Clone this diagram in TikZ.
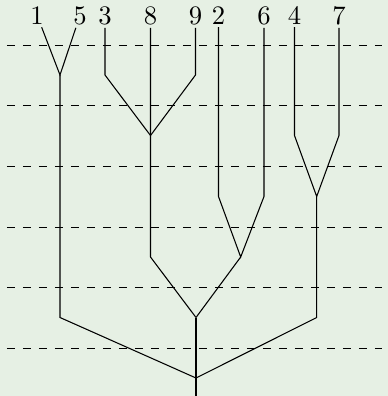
\documentclass[tikz,border=0pt]{standalone}
\definecolor{paleback}{RGB}{230,240,228}
\begin{document}
\begin{tikzpicture}[x=0.375pt,y=-0.375pt,
                    leaf/.style={anchor=base,inner sep=1pt},
                    cut/.style={dashed}]
                        \fill[paleback] (0,0) rectangle (388,396);
                        \useasboundingbox (0,0) rectangle (388,396);

                        \foreach \y in {45.3,105.9,166.5,227.1,287.7,348.3}
                            \draw[cut] (7,\y) -- (382,\y);

                        \node[leaf] (n1) at (37,24) {1};
                        \node[leaf] (n5) at (80,24) {5};
                        \node[leaf] (n3) at (105,24) {3};
                        \node[leaf] (n8) at (150.5,24) {8};
                        \node[leaf] (n9) at (195.5,24) {9};
                        \node[leaf] (n2) at (218.5,24) {2};
                        \node[leaf] (n6) at (264,24) {6};
                        \node[leaf] (n4) at (294.5,24) {4};
                        \node[leaf] (n7) at (339,24) {7};

                        \coordinate (j15) at (60,75);
                        \coordinate (c3) at (105,75);
                        \coordinate (c9) at (195.5,75);
                        \coordinate (j389) at (150.5,135.5);
                        \coordinate (c4) at (294.5,135.5);
                        \coordinate (c7) at (339,135.5);
                        \coordinate (c2) at (218.5,196.5);
                        \coordinate (c6) at (264,196.5);
                        \coordinate (j47) at (316.7,196.5);
                        \coordinate (c8) at (150.5,257);
                        \coordinate (j26) at (240.7,257);
                        \coordinate (c15) at (60,317.5);
                        \coordinate (j3) at (196,317.5);
                        \coordinate (c47) at (316.7,317.5);
                        \coordinate (root) at (196,378);
                        \coordinate (tail) at (196,396);

                        \draw (n1) -- (j15) -- (n5);
                        \draw (j15) -- (c15) -- (root);
                        \draw (n3) -- (c3) -- (j389) -- (c9) -- (n9);
                        \draw (n8) -- (j389) -- (c8) -- (j3);
                        \draw (n2) -- (c2) -- (j26) -- (c6) -- (n6);
                        \draw (j26) -- (j3);
                        \draw (n4) -- (c4) -- (j47) -- (c7) -- (n7);
                        \draw (j47) -- (c47) -- (root);
                        \draw (j3) -- (root) -- (tail);
                    \end{tikzpicture}
\end{document}
